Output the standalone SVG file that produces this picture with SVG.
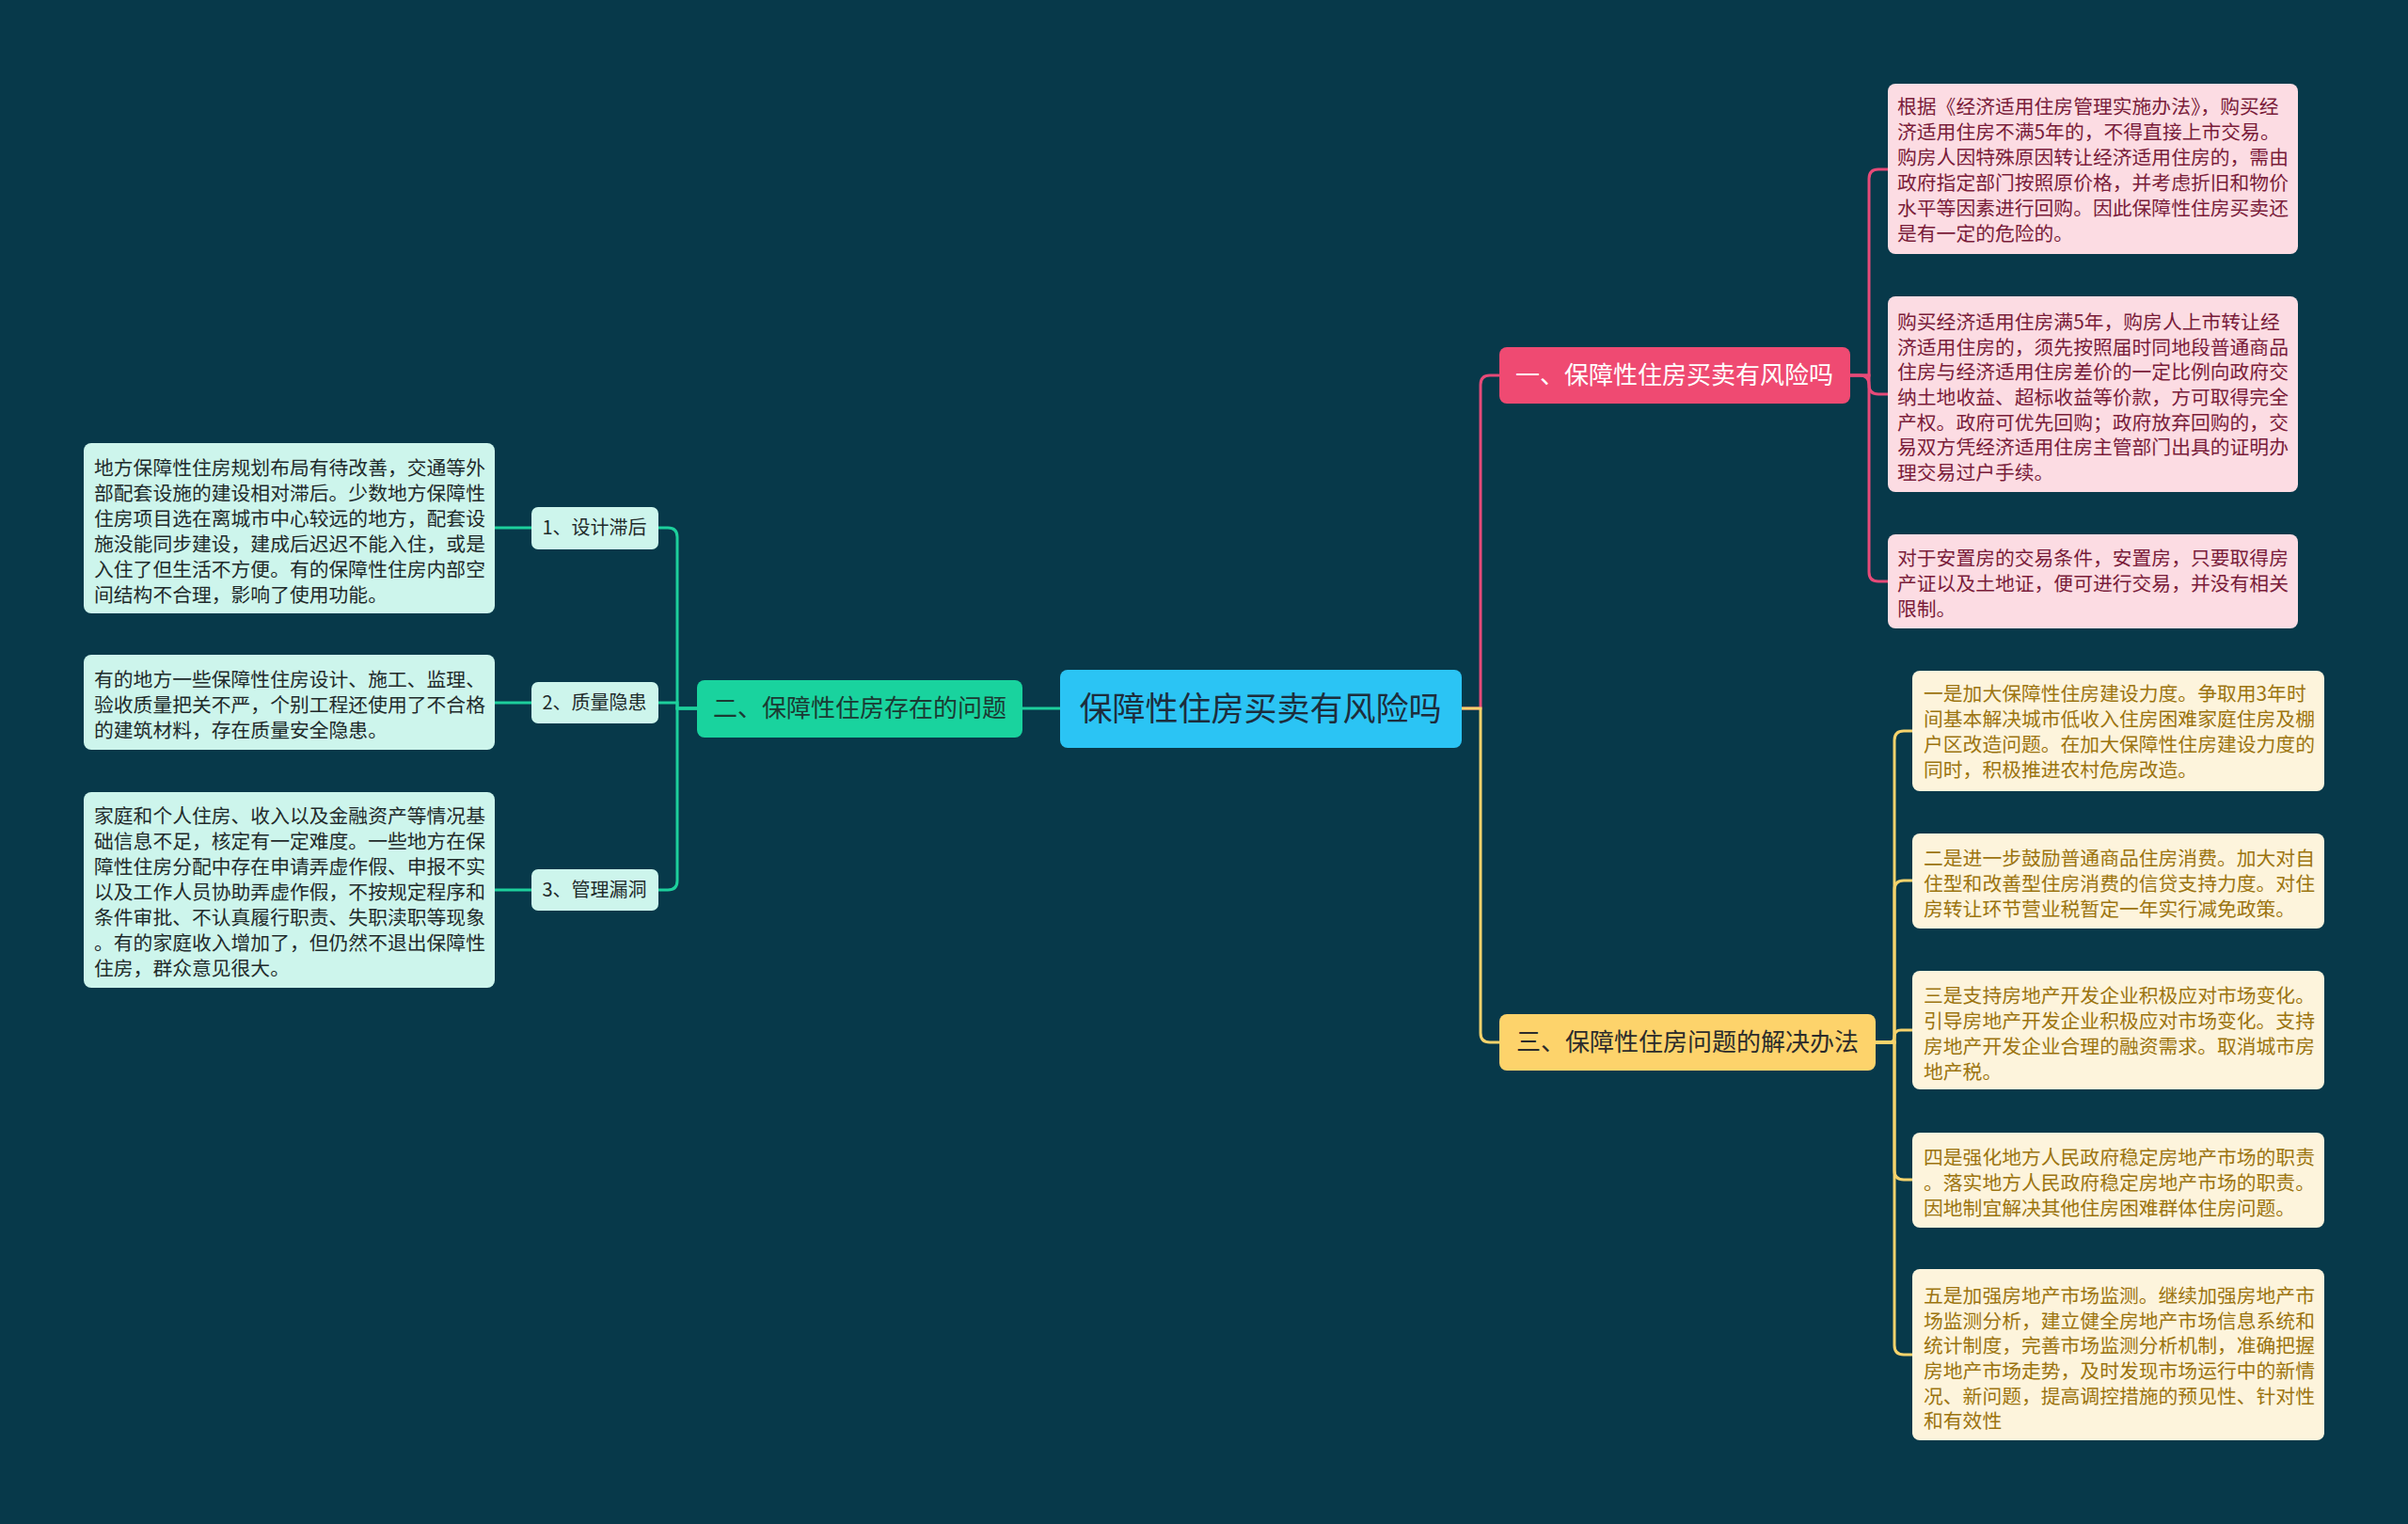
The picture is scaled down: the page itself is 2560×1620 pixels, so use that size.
<svg xmlns="http://www.w3.org/2000/svg" width="2560" height="1620" viewBox="0 0 2560 1620">
<style>
text{font-family:"Noto Sans CJK SC","Noto Sans",sans-serif}
.lf{font-size:20.8px}
.pk{fill:#fcdce3}
.pkt{fill:#7a1c3a}
.yl{fill:#fdf4dc}
.ylt{fill:#9c7410}
.mn{fill:#cdf5ec}
.mnt{fill:#1f2b2b}
.c{fill:none;stroke-width:3}
.cp{stroke:#e64a78}
.cy{stroke:#f6d36c}
.cg{stroke:#1dcf9c}
</style>
<rect width="2560" height="1620" fill="#07394a"/>
<g id="connectors">
<path class="c cp" d="M1554 753 H1574 V409 Q1574 399 1584 399 H1594"/>
<path class="c cy" d="M1554 753 H1574 V1098 Q1574 1108 1584 1108 H1594"/>
<path class="c cg" d="M1127 753 H1087"/>
<path class="c cp" d="M1967 399 H1987 V190 Q1987 180 1997 180 H2007"/>
<path class="c cp" d="M1967 399 H1977 Q1987 399 1987 409 Q1987 419 1997 419 H2007"/>
<path class="c cp" d="M1967 399 H1987 V608 Q1987 618 1997 618 H2007"/>
<path class="c cy" d="M1994 1108 H2014 V787 Q2014 777 2024 777 H2033"/>
<path class="c cy" d="M1994 1108 H2014 V946 Q2014 936 2024 936 H2033"/>
<path class="c cy" d="M1994 1108 H2008 Q2014 1108 2014 1102 Q2014 1095 2021 1095 H2033"/>
<path class="c cy" d="M1994 1108 H2014 V1244 Q2014 1254 2024 1254 H2033"/>
<path class="c cy" d="M1994 1108 H2014 V1430 Q2014 1440 2024 1440 H2033"/>
<path class="c cg" d="M741 753 H720 V571 Q720 561 710 561 H700"/>
<path class="c cg" d="M741 753 H720 V747 H700"/>
<path class="c cg" d="M741 753 H720 V936 Q720 946 710 946 H700"/>
<path class="c cg" d="M565 561 H526"/>
<path class="c cg" d="M565 747 H526"/>
<path class="c cg" d="M565 946 H526"/>
</g>
<g id="root">
<rect x="1127" y="712" width="427" height="83" rx="8" fill="#2bc4f4"/>
<text x="1340" y="766" font-size="35" text-anchor="middle" fill="#1d2d3c">保障性住房买卖有风险吗</text>
</g>
<g id="b1">
<rect x="1594" y="369" width="373" height="60" rx="8" fill="#ef4a72"/>
<text x="1780" y="408" font-size="26" text-anchor="middle" fill="#ffffff">一、保障性住房买卖有风险吗</text>
</g>
<g id="b3">
<rect x="1594" y="1078" width="400" height="60" rx="8" fill="#fdd36b"/>
<text x="1794" y="1117" font-size="26" text-anchor="middle" fill="#2b2b2b">三、保障性住房问题的解决办法</text>
</g>
<g id="b2">
<rect x="741" y="723" width="346" height="61" rx="8" fill="#19d39e"/>
<text x="914" y="762" font-size="26" text-anchor="middle" fill="#1b3a33">二、保障性住房存在的问题</text>
</g>
<g id="s1">
<rect x="565" y="539" width="135" height="45" rx="7" class="mn"/>
<text x="632" y="568" font-size="20" text-anchor="middle" class="mnt">1、设计滞后</text>
</g>
<g id="s2">
<rect x="565" y="725" width="135" height="44" rx="7" class="mn"/>
<text x="632" y="754" font-size="20" text-anchor="middle" class="mnt">2、质量隐患</text>
</g>
<g id="s3">
<rect x="565" y="924" width="135" height="44" rx="7" class="mn"/>
<text x="632" y="953" font-size="20" text-anchor="middle" class="mnt">3、管理漏洞</text>
</g>
<g id="l1">
<rect x="89" y="471" width="437" height="181" rx="8" class="mn"/>
<text class="lf mnt" x="100"><tspan x="100" y="505">地方保障性住房规划布局有待改善，交通等外</tspan><tspan x="100" y="532">部配套设施的建设相对滞后。少数地方保障性</tspan><tspan x="100" y="559">住房项目选在离城市中心较远的地方，配套设</tspan><tspan x="100" y="586">施没能同步建设，建成后迟迟不能入住，或是</tspan><tspan x="100" y="613">入住了但生活不方便。有的保障性住房内部空</tspan><tspan x="100" y="640">间结构不合理，影响了使用功能。</tspan></text>
</g>
<g id="l2">
<rect x="89" y="696" width="437" height="101" rx="8" class="mn"/>
<text class="lf mnt"><tspan x="100" y="730">有的地方一些保障性住房设计、施工、监理、</tspan><tspan x="100" y="757">验收质量把关不严，个别工程还使用了不合格</tspan><tspan x="100" y="784">的建筑材料，存在质量安全隐患。</tspan></text>
</g>
<g id="l3">
<rect x="89" y="842" width="437" height="208" rx="8" class="mn"/>
<text class="lf mnt"><tspan x="100" y="875">家庭和个人住房、收入以及金融资产等情况基</tspan><tspan x="100" y="902">础信息不足，核定有一定难度。一些地方在保</tspan><tspan x="100" y="929">障性住房分配中存在申请弄虚作假、申报不实</tspan><tspan x="100" y="956">以及工作人员协助弄虚作假，不按规定程序和</tspan><tspan x="100" y="983">条件审批、不认真履行职责、失职渎职等现象</tspan><tspan x="100" y="1010">。有的家庭收入增加了，但仍然不退出保障性</tspan><tspan x="100" y="1037">住房，群众意见很大。</tspan></text>
</g>
<g id="p1">
<rect x="2007" y="89" width="436" height="181" rx="8" class="pk"/>
<text class="lf pkt"><tspan x="2017" y="121">根据《经济适用住房管理实施办法》，购买经</tspan><tspan x="2017" y="148">济适用住房不满5年的，不得直接上市交易。</tspan><tspan x="2017" y="175">购房人因特殊原因转让经济适用住房的，需由</tspan><tspan x="2017" y="202">政府指定部门按照原价格，并考虑折旧和物价</tspan><tspan x="2017" y="229">水平等因素进行回购。因此保障性住房买卖还</tspan><tspan x="2017" y="256">是有一定的危险的。</tspan></text>
</g>
<g id="p2">
<rect x="2007" y="315" width="436" height="208" rx="8" class="pk"/>
<text class="lf pkt"><tspan x="2017" y="350">购买经济适用住房满5年，购房人上市转让经</tspan><tspan x="2017" y="377">济适用住房的，须先按照届时同地段普通商品</tspan><tspan x="2017" y="403">住房与经济适用住房差价的一定比例向政府交</tspan><tspan x="2017" y="430">纳土地收益、超标收益等价款，方可取得完全</tspan><tspan x="2017" y="457">产权。政府可优先回购；政府放弃回购的，交</tspan><tspan x="2017" y="483">易双方凭经济适用住房主管部门出具的证明办</tspan><tspan x="2017" y="510">理交易过户手续。</tspan></text>
</g>
<g id="p3">
<rect x="2007" y="568" width="436" height="100" rx="8" class="pk"/>
<text class="lf pkt"><tspan x="2017" y="601">对于安置房的交易条件，安置房，只要取得房</tspan><tspan x="2017" y="628">产证以及土地证，便可进行交易，并没有相关</tspan><tspan x="2017" y="655">限制。</tspan></text>
</g>
<g id="y1">
<rect x="2033" y="713" width="438" height="128" rx="8" class="yl"/>
<text class="lf ylt"><tspan x="2045" y="745">一是加大保障性住房建设力度。争取用3年时</tspan><tspan x="2045" y="772">间基本解决城市低收入住房困难家庭住房及棚</tspan><tspan x="2045" y="799">户区改造问题。在加大保障性住房建设力度的</tspan><tspan x="2045" y="826">同时，积极推进农村危房改造。</tspan></text>
</g>
<g id="y2">
<rect x="2033" y="886" width="438" height="101" rx="8" class="yl"/>
<text class="lf ylt"><tspan x="2045" y="920">二是进一步鼓励普通商品住房消费。加大对自</tspan><tspan x="2045" y="947">住型和改善型住房消费的信贷支持力度。对住</tspan><tspan x="2045" y="974">房转让环节营业税暂定一年实行减免政策。</tspan></text>
</g>
<g id="y3">
<rect x="2033" y="1032" width="438" height="126" rx="8" class="yl"/>
<text class="lf ylt"><tspan x="2045" y="1066">三是支持房地产开发企业积极应对市场变化。</tspan><tspan x="2045" y="1093">引导房地产开发企业积极应对市场变化。支持</tspan><tspan x="2045" y="1120">房地产开发企业合理的融资需求。取消城市房</tspan><tspan x="2045" y="1147">地产税。</tspan></text>
</g>
<g id="y4">
<rect x="2033" y="1204" width="438" height="101" rx="8" class="yl"/>
<text class="lf ylt"><tspan x="2045" y="1238">四是强化地方人民政府稳定房地产市场的职责</tspan><tspan x="2045" y="1265">。落实地方人民政府稳定房地产市场的职责。</tspan><tspan x="2045" y="1292">因地制宜解决其他住房困难群体住房问题。</tspan></text>
</g>
<g id="y5">
<rect x="2033" y="1349" width="438" height="182" rx="8" class="yl"/>
<text class="lf ylt"><tspan x="2045" y="1385">五是加强房地产市场监测。继续加强房地产市</tspan><tspan x="2045" y="1412">场监测分析，建立健全房地产市场信息系统和</tspan><tspan x="2045" y="1438">统计制度，完善市场监测分析机制，准确把握</tspan><tspan x="2045" y="1465">房地产市场走势，及时发现市场运行中的新情</tspan><tspan x="2045" y="1492">况、新问题，提高调控措施的预见性、针对性</tspan><tspan x="2045" y="1518">和有效性</tspan></text>
</g>
</svg>
